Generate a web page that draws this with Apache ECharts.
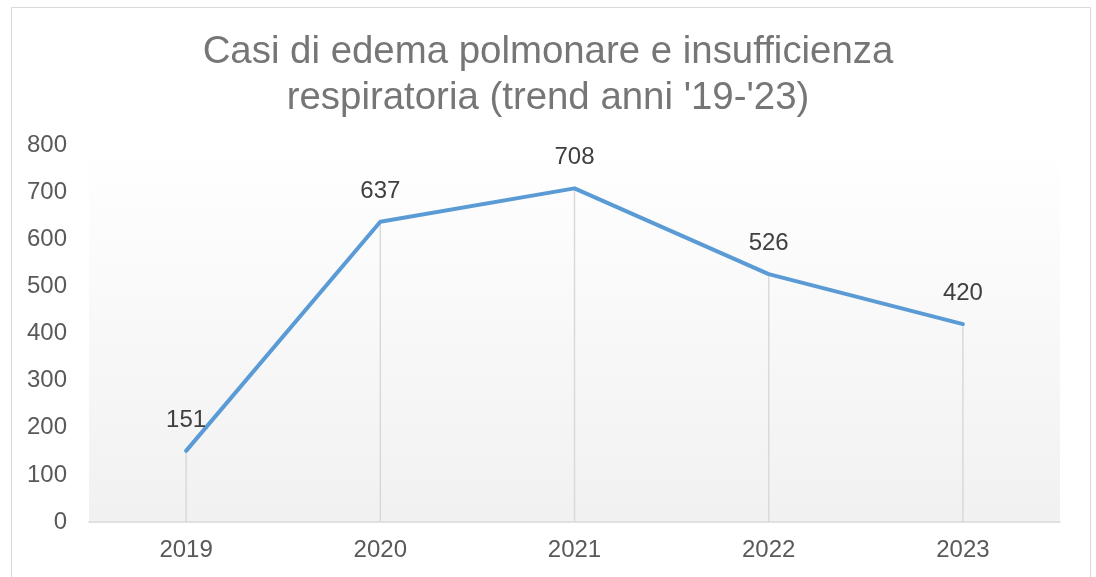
<!DOCTYPE html>
<html>
<head>
<meta charset="utf-8">
<script src="https://cdn.jsdelivr.net/npm/echarts@6/dist/echarts.min.js"></script>
<style>
html,body{margin:0;padding:0;background:#fff;}
#chart{width:1096px;height:577px;}
</style>
</head>
<body>
<div id="chart"></div>
<script>
const titleText = "Casi di edema polmonare e insufficienza\nrespiratoria (trend anni '19-'23)";
const categories = ["2019", "2020", "2021", "2022", "2023"];
const cases = [151, 637, 708, 526, 420];
const yTicks = [0, 100, 200, 300, 400, 500, 600, 700, 800];

const FONT = "'Liberation Sans', Arial, sans-serif";
const chart = echarts.init(document.getElementById('chart'), null, {renderer: 'canvas'});
chart.setOption({
  animation: false,
  backgroundColor: '#ffffff',
  graphic: [{
    type: 'rect', left: 9, top: 5, z: 100, silent: true,
    shape: {width: 1079, height: 600},
    style: {fill: 'none', stroke: '#d9d9d9', lineWidth: 1}
  }],
  title: {
    text: titleText,
    left: 'center', top: 24,
    textStyle: {fontFamily: FONT, fontSize: 38.4, fontWeight: 'normal', color: '#767676', lineHeight: 46}
  },
  grid: {
    left: 89, right: 36, top: 145, bottom: 55,
    show: true, borderWidth: 0,
    backgroundColor: new echarts.graphic.LinearGradient(0, 0, 0, 1, [
      {offset: 0, color: '#ffffff'},
      {offset: 1, color: '#f1f1f1'}
    ])
  },
  xAxis: {
    type: 'category', data: categories, boundaryGap: true,
    axisLine: {show: true, lineStyle: {color: '#d9d9d9', width: 1.5}},
    axisTick: {show: false},
    axisLabel: {fontFamily: FONT, fontSize: 24, color: '#595959', margin: 16}
  },
  yAxis: {
    type: 'value', min: yTicks[0], max: yTicks[yTicks.length - 1], interval: 100,
    axisLine: {show: false}, axisTick: {show: false},
    splitLine: {show: false},
    axisLabel: {fontFamily: FONT, fontSize: 24, color: '#595959', margin: 22}
  },
  series: [{
    type: 'bar', data: cases, barWidth: 1.5, silent: true,
    itemStyle: {color: '#d9d9d9'}, z: 1
  }, {
    type: 'line', data: cases, symbol: 'circle', symbolSize: 1, showSymbol: true, z: 3,
    itemStyle: {color: '#5b9bd5'},
    lineStyle: {color: '#5b9bd5', width: 4, cap: 'round', join: 'round'},
    label: {show: true, position: 'top', distance: 18, fontFamily: FONT, fontSize: 24, color: '#404040'}
  }]
});
</script>
</body>
</html>
